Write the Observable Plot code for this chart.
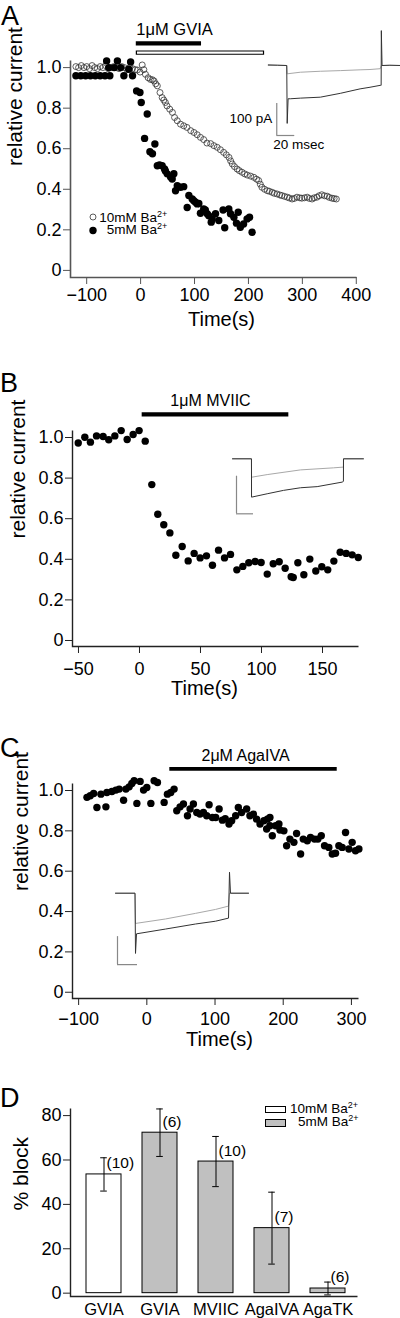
<!DOCTYPE html>
<html><head><meta charset="utf-8">
<script src="https://cdn.jsdelivr.net/npm/d3@7"></script>
<script src="https://cdn.jsdelivr.net/npm/@observablehq/plot@0.6"></script>
<style>
body{margin:0;background:#fff;}
#root{position:relative;width:400px;height:1318px;overflow:hidden;font-family:"Liberation Sans",Arial,sans-serif;color:#000;}
.letter{position:absolute;font-size:27px;line-height:27px;left:1px;}
.lg{position:absolute;font-size:13.5px;line-height:13px;white-space:nowrap;}
.lg sup{font-size:9px;vertical-align:5px;line-height:0;}
.sw{position:absolute;box-sizing:border-box;border:1px solid #000;}
</style></head><body><div id="root"></div><script>
// ---------- DATA ----------
// Panel A: relative current vs time, 10 mM Ba2+ (open) and 5 mM Ba2+ (filled)
const a10 = [[-120,1.005],[-115,1.0],[-110,1.01],[-105,1.0],[-100,1.005],[-95,0.995],[-90,1.01],[-85,1.0],[-80,0.995],[-75,1.005],[-70,1.0],[-65,1.01],[-60,0.995],[-55,1.0],[-50,1.005],[-45,1.0],[-40,0.995],[-35,1.005],[-30,1.0],[-25,0.99],[-20,1.0],[-15,0.995],[-10,0.99],[-6,0.988],[-1,0.978],[3,1.013],[6,0.99],[9,0.967],[14,0.95],[18,0.942],[22,0.94],[25,0.934],[28,0.92],[31,0.91],[36,0.877],[40,0.852],[43,0.84],[46,0.828],[49,0.811],[54,0.795],[59,0.779],[63,0.754],[68,0.738],[74,0.721],[80,0.713],[86,0.705],[93,0.689],[99,0.68],[105,0.669],[111,0.656],[117,0.645],[123,0.628],[130,0.625],[136,0.615],[142,0.607],[148,0.595],[154,0.582],[159,0.57],[164,0.557],[167,0.54],[170,0.525],[174,0.512],[179,0.5],[183,0.492],[188,0.484],[193,0.476],[198,0.47],[204,0.465],[210,0.459],[215,0.45],[219,0.443],[222,0.425],[225,0.41],[230,0.4],[235,0.393],[239,0.39],[244,0.385],[248,0.38],[253,0.377],[258,0.372],[262,0.369],[267,0.365],[272,0.361],[276,0.357],[281,0.352],[285,0.355],[290,0.361],[295,0.358],[299,0.356],[304,0.358],[309,0.361],[313,0.355],[318,0.352],[322,0.358],[327,0.361],[331,0.368],[336,0.373],[341,0.368],[346,0.366],[350,0.36],[355,0.356],[359,0.354],[363,0.352]];
const a5 = [[-120,0.96],[-111,0.96],[-102,0.96],[-93,0.96],[-84,0.96],[-75,0.96],[-66,0.96],[-57,0.96],[-63,1.033],[-59,1.0],[-49,1.0],[-43,1.033],[-37,1.0],[-31,0.96],[-22,0.992],[-18.5,1.028],[-15,0.96],[-7.4,0.885],[-1.2,0.877],[1.2,0.828],[7.4,0.651],[12.3,0.771],[17.3,0.585],[22,0.575],[26.5,0.623],[31,0.516],[35,0.52],[40,0.516],[44.4,0.5],[46,0.49],[49.4,0.476],[55.6,0.46],[58.6,0.451],[61.7,0.477],[64.8,0.393],[68,0.418],[74,0.41],[80,0.413],[86.4,0.31],[89.5,0.369],[95.7,0.352],[98.7,0.344],[101.9,0.336],[105,0.328],[108,0.33],[111,0.282],[117,0.303],[120,0.298],[123.5,0.279],[126.5,0.27],[131,0.238],[132.7,0.254],[139,0.279],[145,0.246],[153,0.298],[156,0.21],[163.6,0.303],[166.7,0.279],[173,0.262],[177.8,0.233],[181,0.287],[185,0.213],[191,0.229],[197.5,0.254],[202,0.262],[206.8,0.188]];
const gviaApplication5 = [-8, 113];   // filled bar
const gviaApplication10 = [-8, 230];  // open bar
const aTicksX = [-100, 0, 100, 200, 300, 400];
const currentTicks = [0, 0.2, 0.4, 0.6, 0.8, 1.0];

// Panel B
const bData = [[-50.2,0.973],[-44.8,1.001],[-40.2,0.977],[-35.2,1.008],[-29.8,1.005],[-25.2,0.989],[-20.2,1.008],[-15,1.034],[-10.1,0.99],[-5.2,1.015],[-0.3,1.034],[4.7,0.982],[10.1,0.768],[15,0.622],[19.9,0.57],[24.9,0.53],[29.8,0.42],[35,0.463],[39.9,0.392],[44.8,0.429],[49.7,0.407],[54.9,0.417],[59.8,0.371],[64.8,0.445],[69.7,0.407],[74.6,0.424],[79.8,0.348],[84.7,0.365],[89.6,0.383],[94.8,0.389],[99.7,0.384],[104.7,0.327],[109.6,0.378],[114.5,0.388],[119.4,0.356],[124.3,0.314],[126,0.31],[129.8,0.383],[134.7,0.324],[139.6,0.401],[144.5,0.342],[149.4,0.363],[154.3,0.348],[159.3,0.391],[164.5,0.435],[169.4,0.429],[174.3,0.422],[179.3,0.409]];
const mviicApplication = [2.2, 122.4];
const bTicksX = [-50, 0, 50, 100, 150];

// Panel C
const cData = [[-87.8,0.966],[-83,0.974],[-78,0.985],[-73.2,0.916],[-67.3,0.982],[-60,0.919],[-58.6,0.99],[-51.2,0.995],[-45.4,1.002],[-40.5,1.007],[-34.1,0.952],[-30.7,1.007],[-25.9,1.018],[-22,1.035],[-18.6,1.048],[-14.6,0.936],[-9.8,1.045],[-4.8,1.002],[0,1.015],[5.9,0.936],[10.7,1.048],[15.6,1.04],[25.4,0.941],[30.2,0.982],[35.1,0.99],[40,1.007],[43.9,0.9],[48.8,0.919],[53.7,0.933],[59.6,0.875],[63.4,0.908],[68.3,0.933],[73.2,0.891],[78,0.883],[83,0.891],[87.8,0.875],[91.3,0.929],[96.2,0.866],[101,0.866],[106,0.908],[110.8,0.853],[115,0.86],[120.5,0.834],[124.4,0.85],[130.3,0.875],[134.2,0.916],[139,0.891],[146.4,0.908],[151.2,0.875],[156.2,0.883],[161,0.858],[166,0.834],[171.7,0.85],[175.7,0.809],[176.7,0.858],[180.5,0.866],[180.5,0.825],[184,0.776],[188.9,0.825],[193.7,0.834],[195.2,0.804],[201,0.8],[205,0.726],[209.8,0.759],[215.7,0.743],[219.6,0.787],[225.5,0.685],[229.4,0.759],[235.3,0.751],[240,0.767],[245.9,0.759],[250.8,0.759],[255.8,0.776],[260.6,0.726],[266.9,0.718],[271.9,0.685],[276.7,0.689],[281.6,0.726],[286.5,0.718],[291.4,0.792],[296.3,0.71],[301.1,0.743],[306,0.701],[311,0.71]];
const agaApplication = [33.7, 279.2];
const cTicksX = [-100, 0, 100, 200, 300];

// Panel D
const blockLabels = ["GVIA", "GVIA", "MVIIC", "AgaIVA", "AgaTK"];
const blockMean = [53.5, 72.3, 59.3, 29.3, 2.1];
const blockErr = [7.5, 10.7, 11.3, 16.2, 2.9];
const blockN = [10, 6, 10, 7, 6];
const blockSolution = ["10mM", "5mM", "5mM", "5mM", "5mM"];
const blockTicksY = [0, 20, 40, 60, 80];

// Insets: [ms, pA]
const insetAGray = [[0,0],[10,0.5],[20.5,0],[21,-26],[35.6,-21],[57.8,-18],[80,-16],[102,-13.5],[113,-12.5],[124.4,-10],[125.6,0],[146.7,0]];
const insetADark = [[0,2],[10,1],[20.5,0],[21,-181],[22,-104],[24.4,-104],[35.6,-102],[57.8,-99],[80,-87],[102,-73],[113,-68],[124.4,-62],[125.4,-62],[125.6,109],[126.4,0],[135,1],[146.7,0]];
const insetBGray = [[0,0],[22.3,0],[22.4,-49],[40.8,-42],[80,-29.5],[119,-24],[130.5,-22],[130.6,0],[154,0]];
const insetBDark = [[0,0],[22.3,0],[22.4,-102],[40.8,-93],[60,-84],[80,-77],[99.6,-74],[129,-62],[130.5,-60],[130.6,0],[154,0]];
const insetCGray = [[0,0],[19.5,0],[20,-108],[50,-92],[80,-72],[100,-58],[113,-46],[114,0],[133,0]];
const insetCDark = [[0,0],[19.5,0],[20,-215],[21,-145],[50,-128],[80,-110],[100,-100],[113,-89],[114,75],[115,0],[133,0]];

// ---------- DRAWING ----------
const root = document.getElementById("root");
const font = '"Liberation Sans", Arial, sans-serif';
const baseStyle = {fontFamily: font, fontSize: "18px", color: "black", background: "transparent", overflow: "visible"};
const yFmt = d => d === 0 ? "0" : d.toFixed(1);
const toObj = arr => arr.map(([t, v]) => ({t, v}));
function place(el, left, top) {
  el.style.position = "absolute"; el.style.left = left + "px"; el.style.top = top + "px";
  root.append(el); return el;
}
function lFrame(w, h, stroke, sw) {
  return Plot.frame({stroke, strokeWidth: sw, strokeDasharray: `0 ${w + h} ${w + h}`});
}
function html(s, left, top, cls) {
  const d = document.createElement("div"); d.className = cls; d.innerHTML = s; return place(d, left, top);
}

// Panel A
place(Plot.plot({
  width: 400, height: 340, marginTop: 60, marginBottom: 63, marginLeft: 70, marginRight: 44,
  x: {domain: [-130, 400.4]}, y: {domain: [-0.035, 1.035]}, style: baseStyle,
  marks: [
    lFrame(286, 217, "#555", 1.6),
    Plot.axisY(currentTicks, {tickFormat: yFmt, tickSize: 7, tickPadding: 2, stroke: "#555", label: null}),
    Plot.axisX(aTicksX, {tickSize: 7, tickPadding: 4, stroke: "#555", label: null}),
    Plot.text(["relative current"], {frameAnchor: "left", rotate: -90, dx: -55, dy: -3, fontSize: 21}),
    Plot.text(["Time(s)"], {frameAnchor: "bottom", dx: 8, dy: 48, fontSize: 20}),
    Plot.ruleY([gviaApplication5], {x1: d => d[0], x2: d => d[1], y: () => 1.035, dy: -17.15, stroke: "black", strokeWidth: 4.3}),
    Plot.ruleY([gviaApplication10], {x1: d => d[0], x2: d => d[1], y: () => 1.035, dy: -7.85, stroke: "black", strokeWidth: 4.4}),
    Plot.ruleY([gviaApplication10], {x1: d => d[0], x2: d => d[1], y: () => 1.035, dy: -7.85, stroke: "white", strokeWidth: 2.4, insetLeft: 1.2, insetRight: 1.2}),
    Plot.text(["1μM GVIA"], {x: () => gviaApplication5[0], y: () => 1.035, dy: -31, textAnchor: "start", fontSize: 16.5}),
    Plot.dot(toObj(a10), {x: "t", y: "v", r: 3, fill: "none", stroke: "#333", strokeWidth: 0.8}),
    Plot.dot(toObj(a5), {x: "t", y: "v", r: 3.7, fill: "black"})
  ]
}), 0, 0);

// Panel B
place(Plot.plot({
  width: 400, height: 370, marginTop: 90, marginBottom: 64, marginLeft: 72, marginRight: 42,
  x: {domain: [-54.9, 179.5]}, y: {domain: [-0.0296, 1.0345]}, style: baseStyle,
  marks: [
    lFrame(286, 216, "#222", 1.4),
    Plot.axisY(currentTicks, {tickFormat: yFmt, tickSize: 7, tickPadding: 2, stroke: "#222", label: null}),
    Plot.axisX(bTicksX, {tickSize: 7, tickPadding: 8.5, stroke: "#222", label: null}),
    Plot.text(["relative current"], {frameAnchor: "left", rotate: -90, dx: -54, fontSize: 21}),
    Plot.text(["Time(s)"], {frameAnchor: "bottom", dx: -11, dy: 48, fontSize: 20}),
    Plot.ruleY([mviicApplication], {x1: d => d[0], x2: d => d[1], y: () => 1.0345, dy: -16.15, stroke: "black", strokeWidth: 4.3}),
    Plot.text(["1μM MVIIC"], {x: () => (mviicApplication[0] + mviicApplication[1]) / 2, y: () => 1.0345, dx: -5, dy: -29.5, fontSize: 16}),
    Plot.dot(toObj(bData), {x: "t", y: "v", r: 3.7, fill: "black"})
  ]
}), 0, 340);

// Panel C
place(Plot.plot({
  width: 400, height: 350, marginTop: 73, marginBottom: 62, marginLeft: 72, marginRight: 42,
  x: {domain: [-109, 310.4]}, y: {domain: [-0.031, 1.0347]}, style: baseStyle,
  marks: [
    lFrame(286, 215, "#222", 1.4),
    Plot.axisY(currentTicks, {tickFormat: yFmt, tickSize: 7, tickPadding: 2, stroke: "#222", label: null}),
    Plot.axisX(cTicksX, {tickSize: 7, tickPadding: 7, stroke: "#222", label: null}),
    Plot.text(["relative current"], {frameAnchor: "left", rotate: -90, dx: -51, fontSize: 21}),
    Plot.text(["Time(s)"], {frameAnchor: "bottom", dx: 4, dy: 47, fontSize: 20}),
    Plot.ruleY([agaApplication], {x1: d => d[0], x2: d => d[1], y: () => 1.0347, dy: -14.7, stroke: "black", strokeWidth: 3.8}),
    Plot.text(["2μM AgaIVA"], {x: () => (agaApplication[0] + agaApplication[1]) / 2, y: () => 1.0347, dx: -8, dy: -27.5, fontSize: 16}),
    Plot.dot(toObj(cData), {x: "t", y: "v", r: 3.7, fill: "black"})
  ]
}), 0, 710);

// Panel D
const blockData = blockLabels.map((name, i) => ({i, name, mean: blockMean[i], err: blockErr[i], n: blockN[i], sol: blockSolution[i]}));
place(Plot.plot({
  width: 400, height: 258, marginTop: 48, marginBottom: 22, marginLeft: 70, marginRight: 43,
  x: {type: "band", domain: blockData.map(d => d.i), paddingInner: 0.38, paddingOuter: 0.2186, align: 0.58},
  y: {domain: [-1.5, 83.2]}, style: baseStyle,
  marks: [
    Plot.barY(blockData.filter(d => d.sol === "10mM"), {x: "i", y: "mean", fill: "white", stroke: "black", strokeWidth: 1}),
    Plot.barY(blockData.filter(d => d.sol === "5mM"), {x: "i", y: "mean", fill: "#c0c0c0", stroke: "black", strokeWidth: 1}),
    Plot.ruleX(blockData, {x: "i", y1: d => d.mean - d.err, y2: d => d.mean + d.err, stroke: "black", strokeWidth: 1}),
    Plot.tickY(blockData, {x: "i", y: d => d.mean + d.err, stroke: "black", strokeWidth: 1, insetLeft: 14.2, insetRight: 14.2}),
    Plot.tickY(blockData, {x: "i", y: d => d.mean - d.err, stroke: "black", strokeWidth: 1, insetLeft: 14.2, insetRight: 14.2}),
    Plot.text(blockData, {x: "i", y: "mean", text: d => `(${d.n})`, textAnchor: "start", dx: 2.5, dy: -11, fontSize: 15.5}),
    lFrame(287, 188, "#222", 1.4),
    Plot.axisY(blockTicksY, {tickSize: 7, tickPadding: 2, stroke: "#222", label: null}),
    Plot.axisX({tickSize: 0, tickPadding: 7, tickFormat: i => blockLabels[i], fontSize: 16.5, label: null}),
    Plot.text(["% block"], {frameAnchor: "left", rotate: -90, dx: -49.5, dy: 8, fontSize: 21})
  ]
}), 0, 1060);

// Insets (current traces)
function inset(gray, dark, opts) {
  const {width, height, xDomain, yDomain, bar, labels} = opts;
  const marks = [
    Plot.ruleX([bar], {x: d => d[0], y1: d => d[1], y2: d => d[1] + 100, stroke: "#888", strokeWidth: 1.2}),
    Plot.ruleY([bar], {y: d => d[1], x1: d => d[0], x2: d => d[0] + 20, stroke: "#888", strokeWidth: 1.2}),
    Plot.line(gray, {x: d => d[0], y: d => d[1], stroke: "#a8a8a8", strokeWidth: 1}),
    Plot.line(dark, {x: d => d[0], y: d => d[1], stroke: "#333", strokeWidth: 1})
  ];
  if (labels) {
    marks.push(Plot.text(["100 pA"], {x: () => bar[0], y: () => bar[1], dx: -4.5, dy: -17, textAnchor: "end", fontSize: 13.5}));
    marks.push(Plot.text(["20 msec"], {x: () => bar[0], y: () => bar[1], dx: -3.5, dy: 9.5, textAnchor: "start", fontSize: 13.5}));
  }
  return Plot.plot({
    width, height, marginTop: 0, marginBottom: 0, marginLeft: 0, marginRight: 0,
    x: {domain: xDomain, axis: null}, y: {domain: yDomain, axis: null}, style: baseStyle,
    marks
  });
}
place(inset(insetAGray, insetADark, {width: 170, height: 130, xDomain: [-42, 146.9], yDomain: [-281.25, 125], bar: [9.4, -218.75], labels: true}), 230, 25);
place(inset(insetBGray, insetBDark, {width: 145, height: 80, xDomain: [-8.24, 162.35], yDomain: [-164.1, 48.7], bar: [4.7, -146.3]}), 225, 440);
place(inset(insetCGray, insetCDark, {width: 145, height: 110, xDomain: [-5, 140], yDomain: [-276, 116.8], bar: [2, -255]}), 110, 860);

// Panel letters
html("A", 1, 3, "letter");
html("B", 0, 369.6, "letter");
html("C", 0, 734.6, "letter");
html("D", 0, 1084.6, "letter");

// Legend A
const lgA = document.createElementNS("http://www.w3.org/2000/svg", "svg");
lgA.setAttribute("width", 12); lgA.setAttribute("height", 26);
lgA.innerHTML = '<circle cx="6" cy="6" r="3" fill="none" stroke="#333" stroke-width="0.8"/><circle cx="6" cy="19.5" r="3.7" fill="#000"/>';
place(lgA, 87.3, 211.3);
html('10mM Ba<sup>2+</sup>', 99.3, 210.7, "lg");
html('5mM Ba<sup>2+</sup>', 106.7, 223.3, "lg");

// Legend D
const s1 = document.createElement("div"); s1.className = "sw"; s1.style.width = "21px"; s1.style.height = "7px"; s1.style.background = "#fff"; place(s1, 265, 1106.3);
const s2 = document.createElement("div"); s2.className = "sw"; s2.style.width = "21px"; s2.style.height = "7.5px"; s2.style.background = "#c0c0c0"; place(s2, 265, 1119.3);
html('10mM Ba<sup>2+</sup>', 290, 1101.7, "lg");
html('5mM Ba<sup>2+</sup>', 298, 1115, "lg");
</script></body></html>
